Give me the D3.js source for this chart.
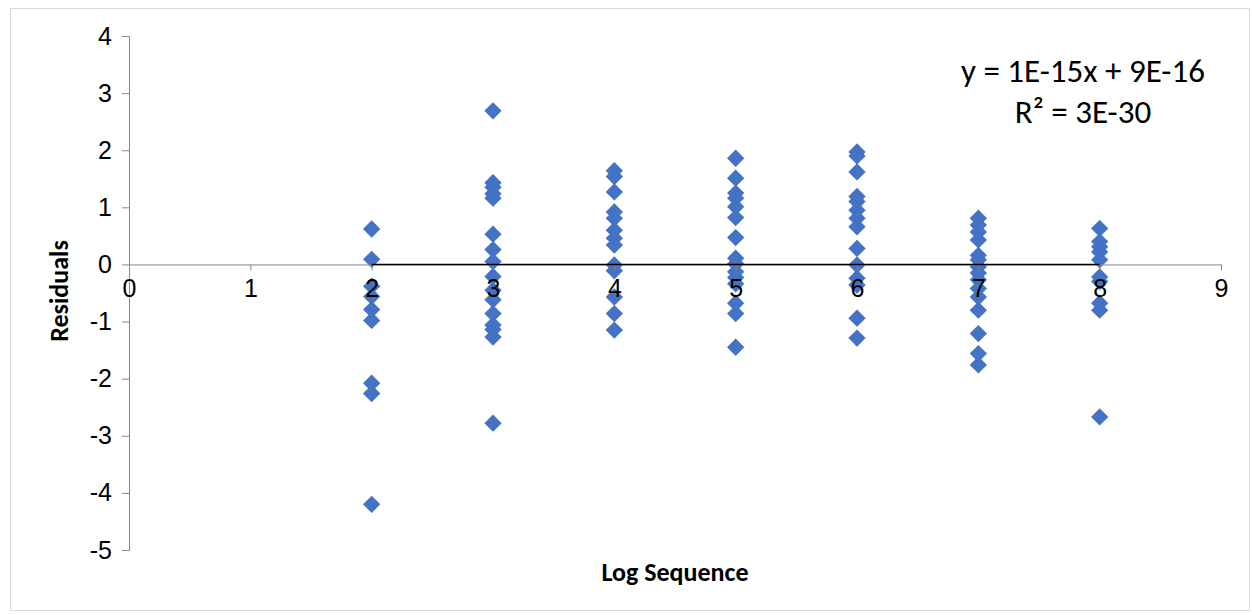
<!DOCTYPE html>
<html>
<head>
<meta charset="utf-8">
<script src="https://cdn.jsdelivr.net/npm/d3@7"></script>
<style>
  body { margin: 0; background: #fff; }
  svg { font-family: Carlito, Calibri, "Open Sans", sans-serif; }
</style>
</head>
<body>
<div class="main"></div>
<script>
// Chart size
const width = 1252;
const height = 615;
const margin = { top: 36, right: 31, bottom: 65, left: 129 };

// Residuals, one list per log sequence
const seq2 = [0.62, 0.09, -0.38, -0.56, -0.79, -0.98, -2.08, -2.26, -4.2];
const seq3 = [2.69, 1.43, 1.35, 1.24, 1.16, 0.53, 0.26, 0.05, -0.21, -0.45, -0.62, -0.86, -1.06, -1.14, -1.27, -2.78];
const seq4 = [1.64, 1.54, 1.27, 0.92, 0.81, 0.6, 0.46, 0.34, -0.01, -0.11, -0.57, -0.86, -1.15];
const seq5 = [1.86, 1.51, 1.25, 1.16, 1.01, 0.82, 0.47, 0.11, 0.01, -0.13, -0.23, -0.34, -0.68, -0.86, -1.45];
const seq6 = [1.97, 1.9, 1.62, 1.19, 1.1, 0.95, 0.81, 0.66, 0.28, -0.01, -0.24, -0.36, -0.94, -1.29];
const seq7 = [0.81, 0.69, 0.57, 0.43, 0.16, 0.08, -0.04, -0.15, -0.27, -0.42, -0.57, -0.8, -1.21, -1.56, -1.76];
const seq8 = [0.63, 0.4, 0.31, 0.22, 0.08, -0.22, -0.3, -0.68, -0.8, -2.67];

const sequences = [2, 3, 4, 5, 6, 7, 8];
const residuals = [seq2, seq3, seq4, seq5, seq6, seq7, seq8];

const xTicks = [0, 1, 2, 3, 4, 5, 6, 7, 8, 9];
const yTicks = [4, 3, 2, 1, 0, -1, -2, -3, -4, -5];

// Trendline y = 1E-15x + 9E-16
const slope = 1e-15;
const intercept = 9e-16;
const equationLines = ['y = 1E-15x + 9E-16', 'R² = 3E-30'];

const points = [];
sequences.forEach((s, i) => residuals[i].forEach(r => points.push({ x: s, y: r })));

const svg = d3.select('.main')
  .append('svg')
  .attr('width', width)
  .attr('height', height);

// Outer chart border
svg.append('rect')
  .attr('x', 10.5).attr('y', 8.5)
  .attr('width', 1239).attr('height', 602)
  .attr('fill', 'white')
  .attr('stroke', '#d9d9d9');

const x = d3.scaleLinear()
  .domain([0, 9])
  .range([margin.left, width - margin.right]);

const y = d3.scaleLinear()
  .domain([-5, 4])
  .range([height - margin.bottom, margin.top]);

// Markers
svg.append('g')
  .selectAll('path')
  .data(points)
  .join('path')
  .attr('d', d3.symbol(d3.symbolSquare, 150))
  .attr('transform', d => `translate(${x(d.x)}, ${y(d.y)}) rotate(45)`)
  .attr('fill', '#4472c4');

// Vertical axis
svg.append('g')
  .attr('transform', `translate(${margin.left}, 0)`)
  .call(d3.axisLeft(y).tickValues(yTicks).tickSize(7).tickPadding(10).tickFormat(d => String(d)))
  .call(g => g.selectAll('path, line').attr('stroke', '#868686'))
  .call(g => g.selectAll('text').attr('font-size', 25).attr('fill', '#000'))
  .call(g => g.select('.domain').attr('d', `M-7,${y(4) + 0.5}H0.5V${y(-5) + 0.5}H-7`));

// Horizontal axis through zero
svg.append('g')
  .attr('transform', `translate(0, ${y(0)})`)
  .call(d3.axisBottom(x).tickValues(xTicks).tickSize(6).tickSizeOuter(0).tickPadding(9).tickFormat(d => String(d)))
  .call(g => g.selectAll('path, line').attr('stroke', '#868686'))
  .call(g => g.selectAll('text').attr('font-size', 25).attr('fill', '#000'));

// Linear trendline over the data range
const xExtent = d3.extent(sequences);
svg.append('line')
  .attr('x1', x(xExtent[0])).attr('x2', x(xExtent[1]))
  .attr('y1', y(slope * xExtent[0] + intercept))
  .attr('y2', y(slope * xExtent[1] + intercept))
  .attr('stroke', '#000')
  .attr('stroke-width', 1.5);

// Equation label
svg.append('g')
  .attr('text-anchor', 'middle')
  .attr('font-size', 33)
  .selectAll('text')
  .data(equationLines)
  .join('text')
  .attr('x', 1083)
  .attr('y', (d, i) => 82 + i * 41)
  .text(d => d);

// Axis titles
svg.append('text')
  .attr('x', 675)
  .attr('y', 581)
  .attr('text-anchor', 'middle')
  .attr('font-size', 26)
  .attr('font-weight', 'bold')
  .text('Log Sequence');

svg.append('text')
  .attr('transform', 'translate(68, 291) rotate(-90)')
  .attr('text-anchor', 'middle')
  .attr('font-size', 26)
  .attr('font-weight', 'bold')
  .text('Residuals');
</script>
</body>
</html>
